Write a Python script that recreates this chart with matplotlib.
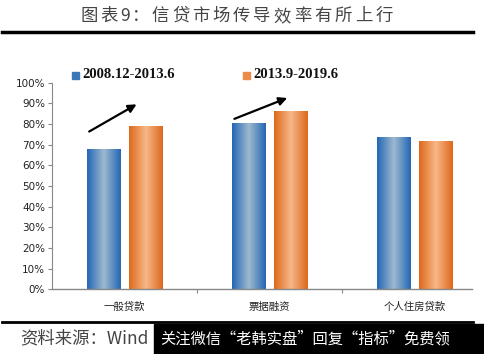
import numpy as np
import matplotlib.pyplot as plt
from matplotlib.colors import LinearSegmentedColormap

plt.rcParams['font.family'] = ['Noto Sans CJK SC', 'DejaVu Sans']

categories = ['一般贷款', '票据融资', '个人住房贷款']
series_names = ['2008.12-2013.6', '2013.9-2019.6']
blue_vals = [0.68, 0.805, 0.735]
orange_vals = [0.79, 0.865, 0.72]
yticks = [0, 0.1, 0.2, 0.3, 0.4, 0.5, 0.6, 0.7, 0.8, 0.9, 1.0]
# trend arrows (start x, start y, end x, end y) in data units
arrows = [(-0.26, 0.757, 0.10, 0.902), (0.74, 0.82, 1.14, 0.931)]

title = '图表9：信贷市场传导效率有所上行'
source = '资料来源：Wind'
watermark = '关注微信“老韩实盘”回复“指标”免费领'

blue_cmap = LinearSegmentedColormap.from_list('b', ['#2468b4', '#9fb9d0', '#2468b4'])
orange_cmap = LinearSegmentedColormap.from_list('o', ['#dd6a1c', '#f8b789', '#dd6a1c'])

fig = plt.figure(figsize=(4.84, 3.54), dpi=100)
ax = fig.add_axes([52 / 484, 1 - 289.3 / 354, 435 / 484, 206.6 / 354])

x = np.arange(len(categories))
w = 0.2276
off = 0.1448
grad = np.linspace(0, 1, 64).reshape(1, -1)

for vals, cmap, sign in [(blue_vals, blue_cmap, -1), (orange_vals, orange_cmap, 1)]:
    bars = ax.bar(x + sign * off, vals, w, color='none', edgecolor='none')
    for b in bars:
        x0, y0 = b.get_x(), b.get_y()
        im = ax.imshow(grad, cmap=cmap, aspect='auto',
                       extent=[x0, x0 + b.get_width(), y0, y0 + b.get_height()],
                       zorder=2)
        im.set_clip_path(b)

ax.set_xlim(-0.5, 2.5)
ax.set_ylim(0, 1)
ax.set_yticks(yticks)
ax.set_yticklabels([f'{int(round(t * 100))}%' for t in yticks], fontsize=7.5,
                   color='#222222', family=['DejaVu Sans'])
ax.set_xticks([0.5, 1.5])
ax.set_xticklabels([])
ax.set_xticks(x, minor=True)
ax.set_xticklabels(categories, minor=True, fontsize=7.5, color='#222222')
ax.tick_params(axis='x', which='minor', length=0, pad=9)
ax.tick_params(axis='x', which='major', length=3, color='#888888', direction='out')
ax.tick_params(axis='y', length=3, color='#888888', pad=2)

for s in ['top', 'right', 'bottom']:
    ax.spines[s].set_visible(False)
ax.spines['left'].set_color('#888888')
ax.axhline(0, xmin=0, xmax=(472 - 52) / 435, color='#888888', lw=1, clip_on=False)

for sx, sy, ex, ey in arrows:
    ax.annotate('', xy=(ex, ey), xytext=(sx, sy),
                arrowprops=dict(arrowstyle='-|>', color='black', lw=1.6, mutation_scale=12))

# legend
leg_font = dict(family='Liberation Serif', fontweight='bold', fontsize=10.5, color='#111111')
fig.patches.append(plt.Rectangle((72 / 484, 1 - 79 / 354), 7 / 484, 7 / 354,
                                 transform=fig.transFigure, color='#3a78b8'))
fig.text(82 / 484, 1 - 75 / 354, series_names[0], va='center', **leg_font)
fig.patches.append(plt.Rectangle((243 / 484, 1 - 79 / 354), 7 / 484, 7 / 354,
                                 transform=fig.transFigure, color='#ec8a48'))
fig.text(253 / 484, 1 - 75 / 354, series_names[1], va='center', **leg_font)

# title, spread out like the original
tx = 80
for ch in title:
    fig.text(tx / 484, 1 - 16 / 354, ch, ha='left', va='center', fontsize=12.5, color='#444444')
    tx += 11 if ch == '9' else 20.3

fig.add_artist(plt.Line2D([2 / 484, 473 / 484], [1 - 32 / 354] * 2, color='black', lw=2.5))
fig.add_artist(plt.Line2D([2 / 484, 473 / 484], [1 - 322 / 354] * 2, color='black', lw=2))

fig.text(20 / 484, 1 - 338 / 354, source, ha='left', va='center', fontsize=12.5,
         color='#444444', style='italic')
fig.patches.append(plt.Rectangle((154 / 484, 0), 330 / 484, 30 / 354,
                                 transform=fig.transFigure, color='black'))
fig.text(160 / 484, 1 - 339 / 354, watermark, ha='left', va='center', fontsize=11,
         color='white')

fig.savefig('out.png', dpi=100)
